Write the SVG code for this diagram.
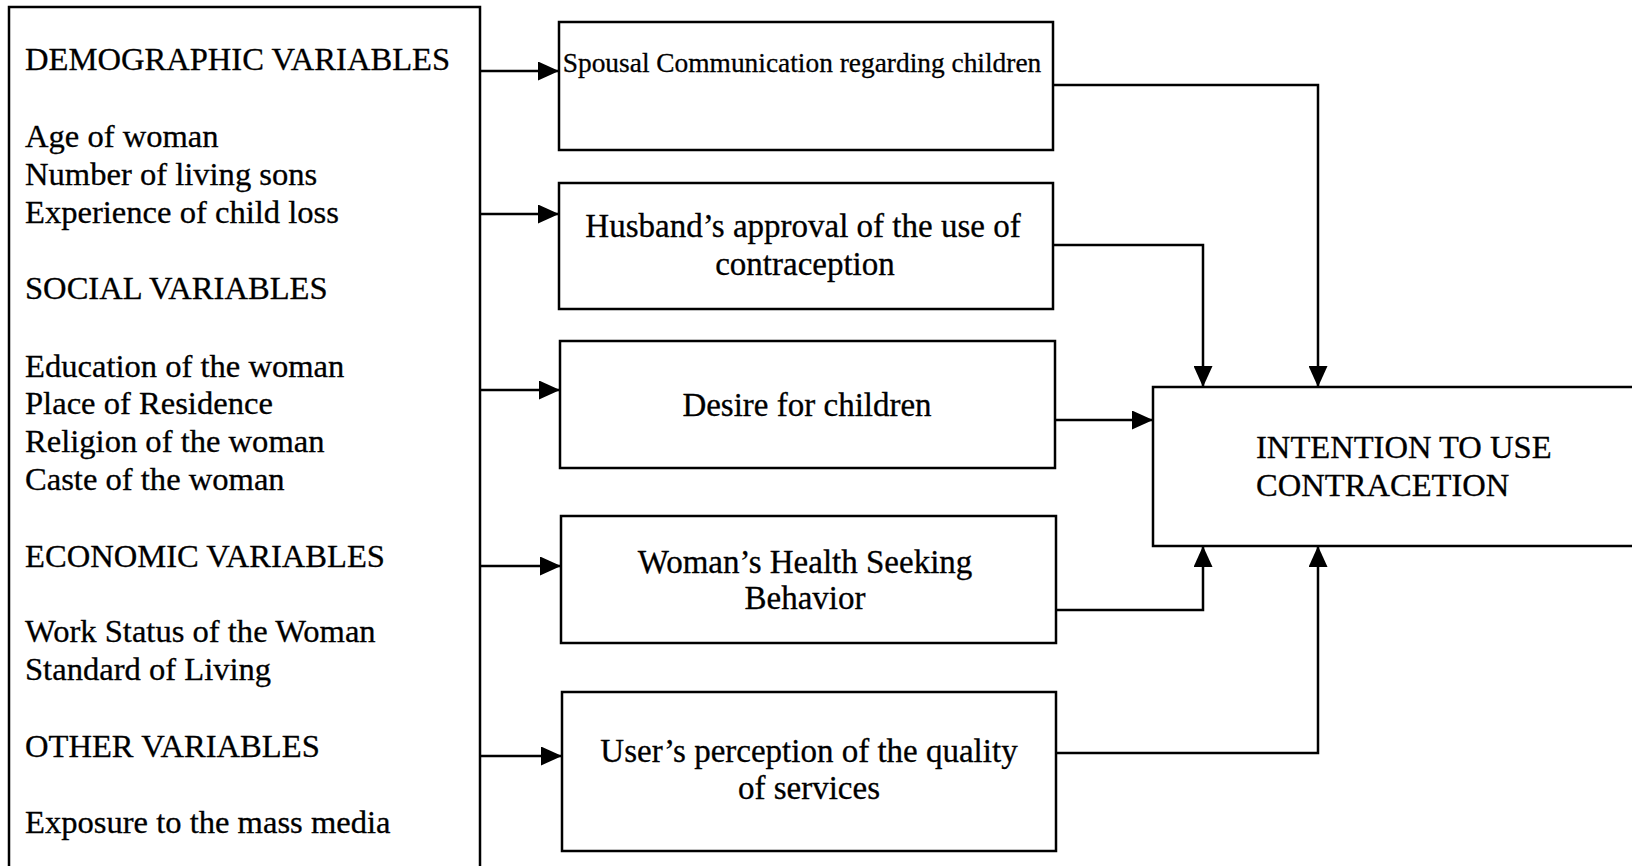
<svg xmlns="http://www.w3.org/2000/svg" width="1632" height="866" viewBox="0 0 1632 866">
<style>
.box{fill:#fff;stroke:#000;stroke-width:2.5}
.t{font-family:"Liberation Serif","Times New Roman",serif;font-size:32.6px;fill:#000;stroke:#000;stroke-width:0.3}
.m{font-size:33px}
.c{text-anchor:middle}
.ln{fill:none;stroke:#000;stroke-width:2.5}
</style>
<defs>
<marker id="ah" viewBox="0 0 21 19" refX="21" refY="9.5" markerWidth="21" markerHeight="19" markerUnits="userSpaceOnUse" orient="auto">
<path d="M0,0 L21,9.5 L0,19 z" fill="#000"/>
</marker>
</defs>
<rect width="1632" height="866" fill="#fff"/>
<g id="variables">
<rect class="box" x="9" y="7" width="471" height="900"/>
<text class="t" x="25" y="70">DEMOGRAPHIC VARIABLES</text>
<text class="t" x="25" y="147">Age of woman</text>
<text class="t" x="25" y="185">Number of living sons</text>
<text class="t" x="25" y="223">Experience of child loss</text>
<text class="t" x="25" y="299">SOCIAL VARIABLES</text>
<text class="t" x="25" y="377">Education of the woman</text>
<text class="t" x="25" y="414">Place of Residence</text>
<text class="t" x="25" y="452">Religion of the woman</text>
<text class="t" x="25" y="490">Caste of the woman</text>
<text class="t" x="25" y="567">ECONOMIC VARIABLES</text>
<text class="t" x="25" y="642">Work Status of the Woman</text>
<text class="t" x="25" y="680">Standard of Living</text>
<text class="t" x="25" y="757">OTHER VARIABLES</text>
<text class="t" x="25" y="833">Exposure to the mass media</text>
</g>
<g id="spousal">
<rect class="box" x="559" y="22" width="494" height="128"/>
<text class="t c" x="802" y="72" style="font-size:27.4px">Spousal Communication regarding children</text>
</g>
<g id="husband">
<rect class="box" x="559" y="183" width="494" height="126"/>
<text class="t m c" x="803" y="237">Husband’s approval of the use of</text>
<text class="t m c" x="805" y="275">contraception</text>
</g>
<g id="desire">
<rect class="box" x="560" y="341" width="495" height="127"/>
<text class="t m c" x="807" y="416">Desire for children</text>
</g>
<g id="health">
<rect class="box" x="561" y="516" width="495" height="127"/>
<text class="t m c" x="805" y="573">Woman’s Health Seeking</text>
<text class="t m c" x="805" y="609">Behavior</text>
</g>
<g id="quality">
<rect class="box" x="562" y="692" width="494" height="159"/>
<text class="t m c" x="809" y="762">User’s perception of the quality</text>
<text class="t m c" x="809" y="799">of services</text>
</g>
<g id="intention">
<rect class="box" x="1153" y="387" width="520" height="159"/>
<text class="t" x="1256" y="458">INTENTION TO USE</text>
<text class="t" x="1256" y="496">CONTRACETION</text>
</g>
<g id="connectors">
<path class="ln" d="M480 71 H559" marker-end="url(#ah)"/>
<path class="ln" d="M480 214 H559" marker-end="url(#ah)"/>
<path class="ln" d="M480 390 H560" marker-end="url(#ah)"/>
<path class="ln" d="M480 566 H561" marker-end="url(#ah)"/>
<path class="ln" d="M480 756 H562" marker-end="url(#ah)"/>
<path class="ln" d="M1053 85 H1318 V387" marker-end="url(#ah)"/>
<path class="ln" d="M1053 245 H1203 V387" marker-end="url(#ah)"/>
<path class="ln" d="M1055 420 H1153" marker-end="url(#ah)"/>
<path class="ln" d="M1056 610 H1203 V546" marker-end="url(#ah)"/>
<path class="ln" d="M1056 753 H1318 V546" marker-end="url(#ah)"/>
</g>
</svg>
